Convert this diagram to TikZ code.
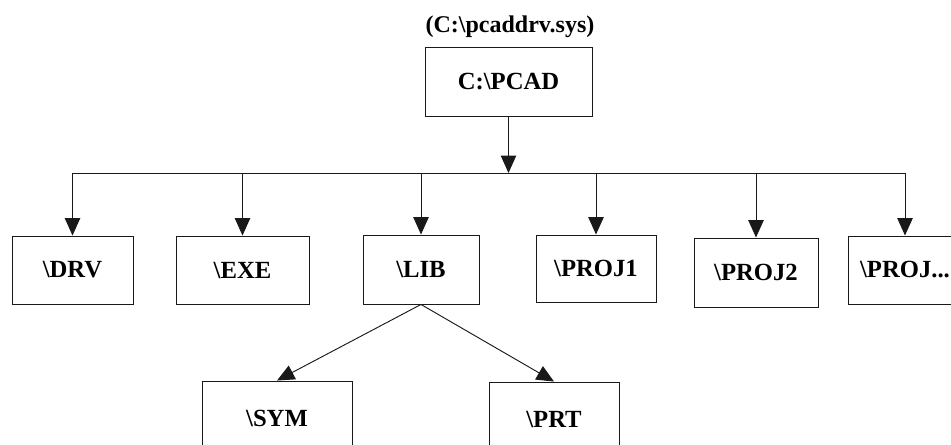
\documentclass[tikz,border=0pt]{standalone}
\usepackage{fontspec}
\setmainfont{Liberation Serif}
\usepackage{tikz}
\usetikzlibrary{arrows.meta}
\usetikzlibrary{shapes,positioning}
\tikzset{>={Triangle[length=13pt,width=11.5pt]}}
\colorlet{penColor}{black!90}
\newcommand\dirfont{\fontsize{18.5}{21}\selectfont\bfseries}
\newcommand\titlefont{\fontsize{18}{20}\selectfont\bfseries}
\tikzset{dirbox/.style={draw=penColor,line width=0.7pt,rectangle,inner sep=0pt,
    minimum width=#1*0.75pt,minimum height=68*0.75pt,font=\dirfont},
  link/.style={draw=penColor,line width=0.7pt}}

\begin{document}
\begin{tikzpicture}[x=0.75pt,y=-0.75pt]
            \clip (0,0) rectangle (951,445);
            \useasboundingbox (0,0) rectangle (951,445);
            \node[font=\titlefont,anchor=base] (title) at (510,33) {(C:\textbackslash pcaddrv.sys)};
            \node[dirbox=167,minimum height=69*0.75pt] (pcad) at (508.5,81.5) {C:\textbackslash PCAD};
            \coordinate (bus) at (508.5,173);
            \node[dirbox=121] (drv) at (72.5,270) {\textbackslash DRV};
            \node[dirbox=133] (exe) at (242.5,270) {\textbackslash EXE};
            \node[dirbox=116,minimum height=69*0.75pt] (lib) at (421,269.5) {\textbackslash LIB};
            \node[dirbox=120,minimum height=67*0.75pt] (proja) at (596,268.5) {\textbackslash PROJ1};
            \node[dirbox=124,minimum height=69*0.75pt] (projb) at (756,272.5) {\textbackslash PROJ2};
            \node[dirbox=114] (projx) at (905,270) {\textbackslash PROJ...};
            \node[dirbox=150,minimum height=74*0.75pt] (sym) at (277,418) {\textbackslash SYM};
            \node[dirbox=130,minimum height=74*0.75pt] (prt) at (554,419) {\textbackslash PRT};
            % trunk and bus
            \draw[link,->] (pcad.south) -- (bus);
            \draw[link] (drv.north |- bus) -- (projx.north |- bus);
            \foreach \d in {drv,exe,lib,proja,projb,projx}
              \draw[link,->] (\d.north |- bus) -- (\d.north);
            % sub folders of LIB
            \draw[link,->] (lib.south) -- (sym.north);
            \draw[link,->] (lib.south) -- (prt.north);
      \end{tikzpicture}
\end{document}
